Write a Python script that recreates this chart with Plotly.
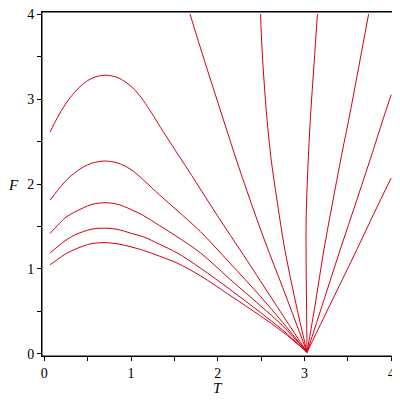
import plotly.graph_objects as go

# curves (T, F)
# humped curves on the left, from top to bottom
T_A1 = [0.066, 0.15, 0.25, 0.35, 0.45, 0.55, 0.70, 0.85, 1.00, 1.10, 1.19, 1.40, 1.70, 2.00, 2.30, 2.60, 3.03]
F_A1 = [2.61, 2.78, 2.95, 3.08, 3.18, 3.245, 3.28, 3.25, 3.15, 3.04, 2.91, 2.57, 2.10, 1.62, 1.16, 0.69, 0.02]

T_A2 = [0.066, 0.15, 0.25, 0.35, 0.45, 0.55, 0.70, 0.85, 1.00, 1.14, 1.33, 1.53, 1.80, 2.14, 2.49, 2.75, 3.03]
F_A2 = [1.81, 1.92, 2.04, 2.13, 2.20, 2.245, 2.27, 2.245, 2.17, 2.05, 1.87, 1.69, 1.44, 1.07, 0.68, 0.37, 0.02]

T_A3 = [0.066, 0.15, 0.25, 0.35, 0.45, 0.55, 0.70, 0.85, 1.00, 1.14, 1.33, 1.53, 1.80, 2.14, 2.49, 2.75, 3.03]
F_A3 = [1.42, 1.51, 1.61, 1.67, 1.72, 1.76, 1.78, 1.76, 1.70, 1.63, 1.51, 1.38, 1.19, 0.88, 0.57, 0.33, 0.02]

T_A4 = [0.066, 0.15, 0.25, 0.35, 0.45, 0.55, 0.70, 0.85, 1.00, 1.14, 1.33, 1.53, 1.80, 2.14, 2.49, 2.75, 3.03]
F_A4 = [1.19, 1.26, 1.34, 1.40, 1.44, 1.47, 1.48, 1.465, 1.42, 1.38, 1.29, 1.19, 1.01, 0.76, 0.49, 0.28, 0.02]

T_A5 = [0.066, 0.15, 0.25, 0.35, 0.45, 0.55, 0.70, 0.85, 1.00, 1.14, 1.33, 1.53, 1.80, 2.14, 2.49, 2.75, 3.03]
F_A5 = [1.05, 1.11, 1.18, 1.23, 1.27, 1.30, 1.31, 1.295, 1.26, 1.22, 1.15, 1.07, 0.92, 0.69, 0.45, 0.26, 0.02]

# steep curves leaving through the top / right edge
T_B1 = [1.68, 1.85, 2.03, 2.20, 2.37, 2.55, 2.75, 3.03]
F_B1 = [4.00, 3.44, 2.87, 2.33, 1.82, 1.31, 0.78, 0.02]

T_B2 = [2.494, 2.510, 2.535, 2.565, 2.615, 2.685, 2.775, 2.90, 3.03]
F_B2 = [4.00, 3.60, 3.20, 2.80, 2.30, 1.80, 1.22, 0.60, 0.02]

T_C = [3.15, 3.11, 3.07, 3.04, 3.02, 3.02, 3.025, 3.03]
F_C = [4.00, 3.40, 2.80, 2.20, 1.60, 1.00, 0.50, 0.02]

T_D = [3.74, 3.51, 3.44, 3.33, 3.22, 3.13, 3.03]
F_D = [4.00, 2.75, 2.40, 1.81, 1.20, 0.62, 0.02]

T_E1 = [4.00, 3.90, 3.80, 3.61, 3.41, 3.22, 3.03]
F_E1 = [3.05, 2.74, 2.42, 1.83, 1.22, 0.62, 0.02]

T_E2 = [4.00, 3.80, 3.61, 3.42, 3.22, 3.03]
F_E2 = [2.07, 1.65, 1.24, 0.84, 0.42, 0.02]

curves = [
    (T_A1, F_A1), (T_A2, F_A2), (T_A3, F_A3), (T_A4, F_A4), (T_A5, F_A5),
    (T_B1, F_B1), (T_B2, F_B2), (T_C, F_C), (T_D, F_D), (T_E1, F_E1), (T_E2, F_E2),
]

x_ticks = [0, 1, 2, 3, 4]
y_ticks = [0, 1, 2, 3, 4]
x_minor = [0.5, 1.5, 2.5, 3.5]
y_minor = [0.5, 1.5, 2.5, 3.5]

RED = 'rgb(210,0,20)'
SERIF = 'Liberation Serif'

fig = go.Figure()

for t, f in curves:
    fig.add_trace(go.Scatter(
        x=t, y=f,
        mode='lines',
        line=dict(color=RED, width=1, shape='spline', smoothing=1.0),
        hoverinfo='skip'
    ))

axis_style = dict(
    showgrid=False,
    zeroline=False,
    showline=True,
    linecolor='black',
    linewidth=1,
    mirror=True,
    automargin=False,
    ticks='outside',
    ticklen=4,
    tickcolor='black',
    ticklabeloverflow='allow',
    tickfont=dict(family=SERIF, size=14, color='black'),
)

# the page body adds an 8px offset, so the margins are shifted to compensate
fig.update_layout(
    width=400,
    height=400,
    margin=dict(l=34, r=14, t=4, b=52),
    paper_bgcolor='white',
    plot_bgcolor='white',
    showlegend=False,
    xaxis=dict(range=[-0.027, 4.033], tickvals=x_ticks,
               minor=dict(tickvals=x_minor, ticks='outside', ticklen=4, tickcolor='black'),
               **axis_style),
    yaxis=dict(range=[-0.024, 4.024], tickvals=y_ticks,
               minor=dict(tickvals=y_minor, ticks='outside', ticklen=4, tickcolor='black'),
               **axis_style),
    shapes=[
        # box round the plot area
        dict(type='rect', xref='paper', yref='paper', x0=0, x1=1, y0=0, y1=1,
             line=dict(color='black', width=1), layer='above'),
    ],
    annotations=[
        dict(text='<i>F</i>', x=-0.08, y=0.497, xref='paper', yref='paper',
             xanchor='center', yanchor='middle',
             showarrow=False, font=dict(family=SERIF, size=15, color='black')),
        dict(text='<i>T</i>', x=0.5, y=-0.092, xref='paper', yref='paper',
             xanchor='center', yanchor='middle',
             showarrow=False, font=dict(family=SERIF, size=15, color='black')),
    ]
)

fig.write_html("out.html")
